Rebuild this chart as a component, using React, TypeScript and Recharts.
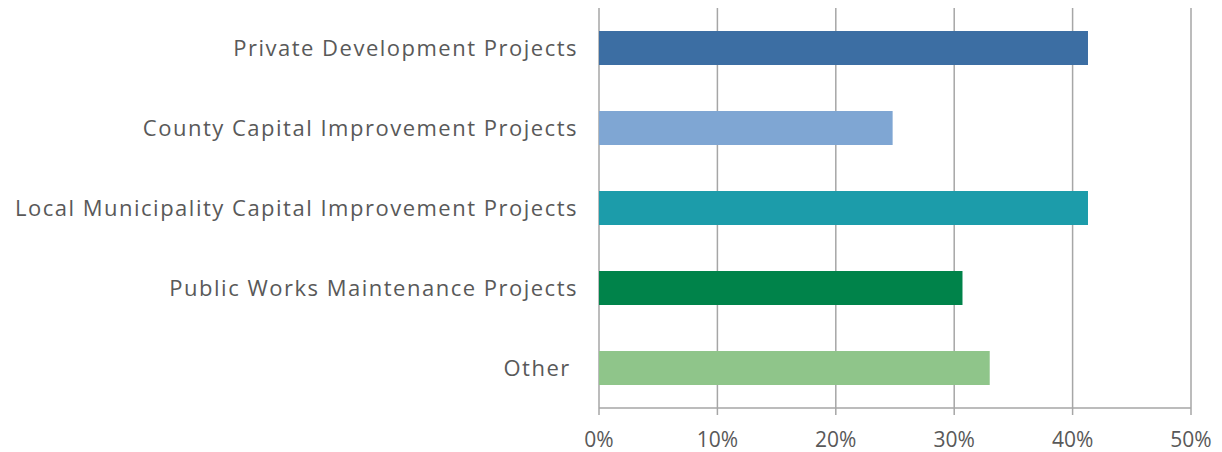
import React from "react";
import { BarChart, Bar, XAxis, YAxis, CartesianGrid, Cell } from "recharts";

const categories = [
  "Private Development Projects",
  "County Capital Improvement Projects",
  "Local Municipality Capital Improvement Projects",
  "Public Works Maintenance Projects",
  "Other ",
];
const values = [0.413, 0.248, 0.413, 0.307, 0.33];
const colors = ["#3C6EA3", "#7FA6D3", "#1C9CAA", "#00834A", "#8FC58A"];
const xTicks = [0, 0.1, 0.2, 0.3, 0.4, 0.5];

const data = categories.map((name, i) => ({ name, value: values[i] }));

const FONT = "'Open Sans', sans-serif";

export default function App() {
  return (
    <BarChart
      width={1206}
      height={444}
      data={data}
      layout="vertical"
      margin={{ top: 0, right: 23, bottom: 0, left: 0 }}
      barCategoryGap={0}
    >
      <CartesianGrid horizontal={false} stroke="#A6A6A6" strokeWidth={1.5} />
      <XAxis
        type="number"
        domain={[0, 0.5]}
        ticks={xTicks}
        tickFormatter={(v: number) => `${Math.round(v * 100)}%`}
        height={44}
        tickSize={7}
        tickMargin={17}
        stroke="#A6A6A6"
        strokeWidth={1.5}
        tick={{ fill: "#595959", fontSize: 21, fontFamily: FONT }}
        interval={0}
      />
      <YAxis
        type="category"
        dataKey="name"
        width={591}
        axisLine={false}
        tickLine={false}
        tickSize={0}
        tickMargin={21}
        tick={{ fill: "#595959", fontSize: 22, fontFamily: FONT, letterSpacing: 1.5, style: { whiteSpace: "pre" } }}
        interval={0}
      />
      <Bar dataKey="value" barSize={34} isAnimationActive={false}>
        {data.map((d, i) => (
          <Cell key={d.name} fill={colors[i]} />
        ))}
      </Bar>
    </BarChart>
  );
}
